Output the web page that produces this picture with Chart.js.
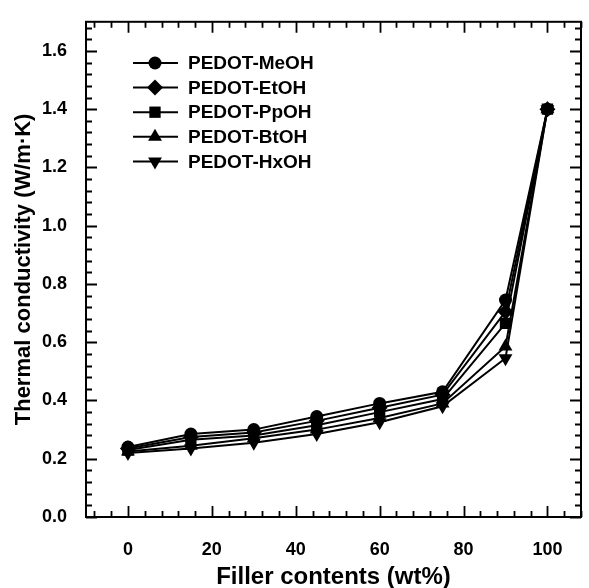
<!DOCTYPE html>
<html>
<head>
<meta charset="utf-8">
<script src="https://cdn.jsdelivr.net/npm/chart.js@4.4.1/dist/chart.umd.min.js"></script>
<style>
  html, body { margin: 0; padding: 0; background: #fff; }
  #wrap { width: 589px; height: 588px; position: relative; }
</style>
</head>
<body>
<div id="wrap"><canvas id="chart"></canvas></div>
<script>
// Filler content (wt%)
const fillerContents = [0, 15, 30, 45, 60, 75, 90, 100];

// Thermal conductivity (W/m·K) per sample
const meohValues = [0.24, 0.285, 0.30, 0.345, 0.39, 0.43, 0.745, 1.40];
const etohValues = [0.235, 0.275, 0.29, 0.33, 0.375, 0.42, 0.705, 1.40];
const ppohValues = [0.23, 0.265, 0.28, 0.315, 0.36, 0.405, 0.665, 1.40];
const btohValues = [0.225, 0.245, 0.27, 0.30, 0.34, 0.39, 0.585, 1.40];
const hxohValues = [0.22, 0.235, 0.255, 0.285, 0.325, 0.38, 0.545, 1.40];

const seriesLabels = ['PEDOT-MeOH', 'PEDOT-EtOH', 'PEDOT-PpOH', 'PEDOT-BtOH', 'PEDOT-HxOH'];

// Tick labels
const xTickValues = [0, 20, 40, 60, 80, 100];
const yTickValues = [0.0, 0.2, 0.4, 0.6, 0.8, 1.0, 1.2, 1.4, 1.6];

const FONT = "Arial, 'Liberation Sans', sans-serif";

const markerStyles = [
    { style: 'circle', rotation: 0, radius: 6.5 },
    { style: 'rectRot', rotation: 0, radius: 8 },
    { style: 'rect', rotation: 0, radius: 8 },
    { style: 'triangle', rotation: 0, radius: 8 },
    { style: 'triangle', rotation: 180, radius: 8 }
];

const allValues = [meohValues, etohValues, ppohValues, btohValues, hxohValues];

const datasets = allValues.map((vals, i) => ({
    label: seriesLabels[i],
    data: fillerContents.map((x, j) => ({ x: x, y: vals[j] })),
    borderColor: '#000',
    backgroundColor: '#000',
    borderWidth: 2,
    pointStyle: markerStyles[i].style,
    rotation: markerStyles[i].rotation,
    pointRadius: markerStyles[i].radius,
    pointBorderWidth: 0,
    tension: 0
}));

// Frame with inward ticks on all four sides
const frameTicksPlugin = {
    id: 'frameTicks',
    afterDatasetsDraw(chart) {
        const { ctx, chartArea: { left, right, top, bottom } } = chart;
        const xs = chart.scales.x, ys = chart.scales.y;
        ctx.save();
        ctx.strokeStyle = '#000';
        ctx.lineWidth = 2;
        ctx.strokeRect(left, top, right - left, bottom - top);

        ctx.lineWidth = 1.8;
        ctx.beginPath();
        for (let v = -8; v <= 108; v += 4) {
            const px = Math.round(xs.getPixelForValue(v)) + 0.5;
            const len = (v % 20 === 0) ? 11 : 6;
            ctx.moveTo(px, bottom); ctx.lineTo(px, bottom - len);
            ctx.moveTo(px, top); ctx.lineTo(px, top + len);
        }
        for (let k = 0; k <= 42; k++) {
            const v = k * 0.04;
            const py = Math.round(ys.getPixelForValue(v)) + 0.5;
            const len = (k % 5 === 0) ? 11 : 6;
            ctx.moveTo(left, py); ctx.lineTo(left + len, py);
            ctx.moveTo(right, py); ctx.lineTo(right - len, py);
        }
        ctx.stroke();
        ctx.restore();
    }
};

// Legend drawn inside the plot: line + marker + bold label
const innerLegendPlugin = {
    id: 'innerLegend',
    afterDraw(chart) {
        const { ctx } = chart;
        const x0 = 133, x1 = 178, mx = 155, tx = 188;
        const y0 = 63, dy = 24.6;
        ctx.save();
        ctx.strokeStyle = '#000';
        ctx.fillStyle = '#000';
        ctx.lineWidth = 2;
        ctx.font = 'bold 19px ' + FONT;
        ctx.textBaseline = 'middle';
        chart.data.datasets.forEach((ds, i) => {
            const y = y0 + i * dy;
            ctx.beginPath();
            ctx.moveTo(x0, y); ctx.lineTo(x1, y);
            ctx.stroke();
            Chart.helpers.drawPoint(ctx, {
                pointStyle: ds.pointStyle,
                rotation: ds.rotation,
                radius: ds.pointRadius,
                borderWidth: 0
            }, mx, y);
            ctx.fillStyle = '#000';
            ctx.fillText(ds.label, tx, y + 1);
        });
        ctx.restore();
    }
};

const chart = new Chart(document.getElementById('chart'), {
    type: 'line',
    data: { datasets: datasets },
    options: {
        responsive: true,
        maintainAspectRatio: false,
        animation: false,
        layout: { padding: { top: 17, right: 4, left: 0, bottom: 0 } },
        plugins: {
            legend: { display: false },
            tooltip: { enabled: false }
        },
        scales: {
            x: {
                type: 'linear',
                min: -10,
                max: 108,
                afterBuildTicks: s => { s.ticks = xTickValues.map(v => ({ value: v })); },
                afterFit: s => { s.height = 71; },
                grid: { display: false },
                border: { display: false },
                ticks: {
                    color: '#000',
                    padding: 14,
                    maxRotation: 0,
                    font: { family: FONT, size: 18, weight: 'bold' },
                    callback: v => String(v)
                },
                title: {
                    display: true,
                    text: 'Filler contents (wt%)',
                    color: '#000',
                    padding: { top: 0, bottom: 0 },
                    font: { family: FONT, size: 24, weight: 'bold', lineHeight: 0.9 }
                }
            },
            y: {
                type: 'linear',
                min: 0,
                max: 1.7,
                afterBuildTicks: s => { s.ticks = yTickValues.map(v => ({ value: v })); },
                afterFit: s => { s.width = 86; },
                grid: { display: false },
                border: { display: false },
                ticks: {
                    color: '#000',
                    padding: 11,
                    font: { family: FONT, size: 18, weight: 'bold' },
                    callback: v => Number(v).toFixed(1)
                },
                title: {
                    display: true,
                    text: 'Thermal conductivity (W/m·K)',
                    color: '#000',
                    padding: { top: 11, bottom: 0 },
                    font: { family: FONT, size: 22, weight: 'bold', lineHeight: 1.2 }
                }
            }
        }
    },
    plugins: [frameTicksPlugin, innerLegendPlugin]
});
</script>
</body>
</html>
